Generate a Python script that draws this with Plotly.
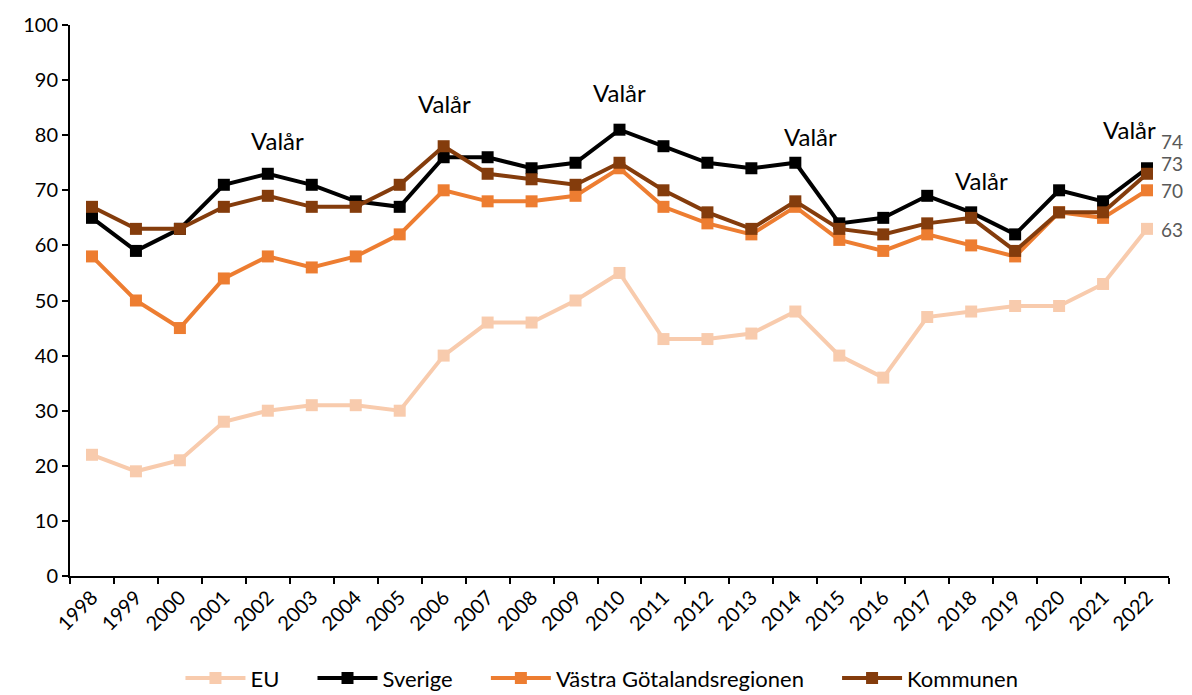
import plotly.graph_objects as go

years = [str(y) for y in range(1998, 2023)]
eu = [22, 19, 21, 28, 30, 31, 31, 30, 40, 46, 46, 50, 55, 43, 43, 44, 48, 40, 36, 47, 48, 49, 49, 53, 63]
sverige = [65, 59, 63, 71, 73, 71, 68, 67, 76, 76, 74, 75, 81, 78, 75, 74, 75, 64, 65, 69, 66, 62, 70, 68, 74]
vgr = [58, 50, 45, 54, 58, 56, 58, 62, 70, 68, 68, 69, 74, 67, 64, 62, 67, 61, 59, 62, 60, 58, 66, 65, 70]
kommunen = [67, 63, 63, 67, 69, 67, 67, 71, 78, 73, 72, 71, 75, 70, 66, 63, 68, 63, 62, 64, 65, 59, 66, 66, 73]

series = [
    ("EU", eu, "#F8CBAD"),
    ("Sverige", sverige, "#000000"),
    ("Västra Götalandsregionen", vgr, "#ED7D31"),
    ("Kommunen", kommunen, "#843C0C"),
]

valar_years = ["2002", "2006", "2010", "2014", "2018", "2022"]
valar_y = [79.1, 85.7, 87.8, 79.7, 71.7, 81.0]
valar_xshift = [10, 1, 0, 15, 10, -18]

end_values = [74, 73, 70, 63]
end_label_y = [78.8, 74.9, 69.9, 62.8]

FONT = "Lato"
PAD = "\u00a0" * 5

fig = go.Figure()
for i, (name, vals, color) in enumerate(series):
    label = name if i == len(series) - 1 else name + PAD
    fig.add_trace(go.Scatter(
        x=years, y=vals, name=label, mode="lines+markers",
        line=dict(color=color, width=4),
        marker=dict(symbol="square", size=12, color=color),
    ))

for yr, yv, xs in zip(valar_years, valar_y, valar_xshift):
    fig.add_annotation(x=years.index(yr), y=yv, text="Valår", showarrow=False, xshift=xs,
                       font=dict(family=FONT, size=24, color="#000000"),
                       xanchor="center", yanchor="middle")

for v, yv in zip(end_values, end_label_y):
    fig.add_annotation(x=len(years) - 1, y=yv, text=str(v), showarrow=False, xshift=12,
                       font=dict(family=FONT, size=19, color="#595959"),
                       xanchor="left", yanchor="middle")

fig.update_layout(
    width=1192, height=695,
    margin=dict(l=70, r=23, t=25, b=119),
    paper_bgcolor="white", plot_bgcolor="white",
    font=dict(family=FONT, size=20, color="#000000"),
    showlegend=True,
    legend=dict(orientation="h", x=0.505, xanchor="center", xref="container",
                y=0.024, yanchor="middle", yref="container",
                font=dict(family=FONT, size=22, color="#000000"), itemwidth=60,
                tracegroupgap=0),
    xaxis=dict(
        type="category", range=[-0.5, len(years) - 0.5],
        tickangle=-45, tickson="boundaries", ticks="outside", ticklen=6,
        tickwidth=2, tickcolor="#000000",
        showline=True, linecolor="#000000", linewidth=2,
        showgrid=False, zeroline=False,
        tickfont=dict(family=FONT, size=20, color="#000000"),
    ),
    yaxis=dict(
        range=[0, 100], dtick=10, ticks="outside", ticklen=6, tickwidth=2,
        tickcolor="#000000",
        showline=True, linecolor="#000000", linewidth=2,
        showgrid=False, zeroline=False,
        tickfont=dict(family=FONT, size=20, color="#000000"),
    ),
)

fig.write_html("out.html", config={"displayModeBar": False},
               post_script="document.body.style.margin='0';")
